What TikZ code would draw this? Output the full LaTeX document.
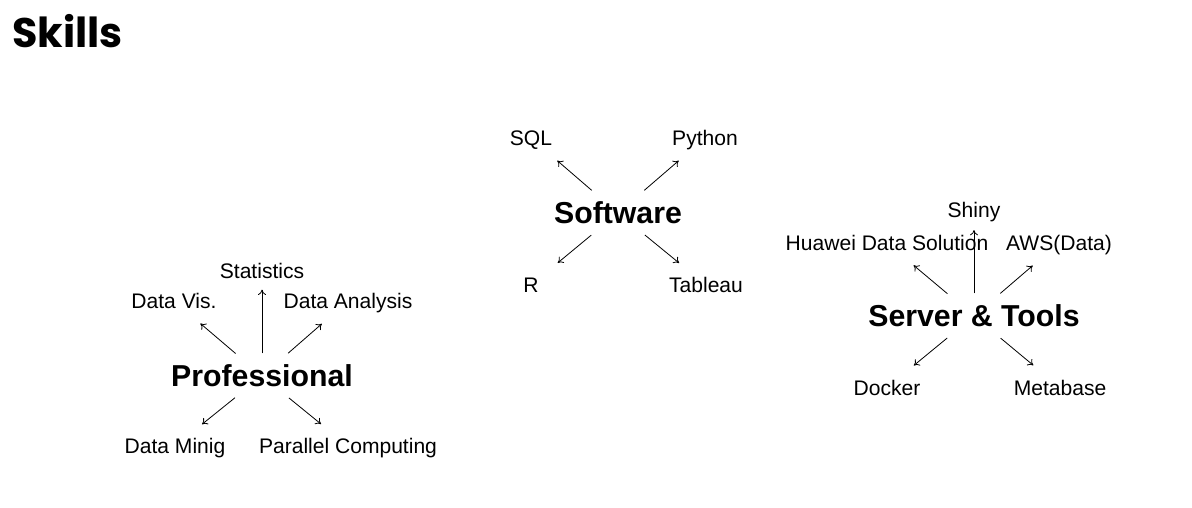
\documentclass[tikz,border=0pt]{standalone}
\usepackage{fontspec}
\setmainfont{Liberation Sans}
\newfontfamily\titlefont{Poppins}
\usetikzlibrary{arrows.meta}

\tikzset{
    leaf/.style={inner sep=0pt, text height=11.3pt, text depth=0pt, font=\fontsize{15.8}{18}\selectfont},
    hub/.style={inner sep=0pt, text height=16.3pt, text depth=0pt, font=\fontsize{22.7}{26}\selectfont\bfseries},
    arr/.style={-{To[length=4pt, width=6pt]}, line width=0.6pt, shorten <=26pt, shorten >=26pt},
}

\begin{document}
\begin{tikzpicture}[x=0.75pt, y=-0.75pt]
    \useasboundingbox (0,0) rectangle (1192,507);
    \node[anchor=base west, inner sep=0pt, font=\titlefont\bfseries\fontsize{31}{36}\selectfont] (title) at (12,47) {Skills};

    % LEFT: Professional
    \begin{scope}[shift={(262,376)}]
        \node[hub] (prof) at (0,0) {Professional};
        \node[leaf] (stat) at (0,-105) {Statistics};
        \node[leaf] (vis) at (-88,-75) {Data Vis.};
        \node[leaf] (ana) at (86,-75) {Data Analysis};
        \node[leaf] (mine) at (-87,70) {Data Minig};
        \node[leaf] (para) at (86,70) {Parallel Computing};
    \end{scope}
    \draw[arr, shorten <=17pt, shorten >=14pt] (prof.center) -- (stat.center);
    \draw[arr] (prof.center) -- (vis.center);
    \draw[arr] (prof.center) -- (ana.center);
    \draw[arr] (prof.center) -- (mine.center);
    \draw[arr] (prof.center) -- (para.center);

    % MIDDLE: Software
    \begin{scope}[shift={(618,213)}]
        \node[hub] (soft) at (0,0) {Software};
        \node[leaf] (sql) at (-87,-75) {SQL};
        \node[leaf] (py) at (87,-75) {Python};
        \node[leaf] (r) at (-87,72) {R};
        \node[leaf] (tab) at (88,72) {Tableau};
    \end{scope}
    \draw[arr] (soft.center) -- (sql.center);
    \draw[arr] (soft.center) -- (py.center);
    \draw[arr] (soft.center) -- (r.center);
    \draw[arr] (soft.center) -- (tab.center);

    % RIGHT: Server & Tools
    \begin{scope}[shift={(974,316)}]
        \node[hub] (serv) at (0,0) {Server \& Tools};
        \node[leaf] (shiny) at (0,-106) {Shiny};
        \node[leaf] (huawei) at (-87,-73) {Huawei Data Solution};
        \node[leaf] (aws) at (85,-73) {AWS(Data)};
        \node[leaf] (dock) at (-87,71.5) {Docker};
        \node[leaf] (meta) at (86,71.5) {Metabase};
    \end{scope}
    \draw[arr, shorten <=17pt, shorten >=15pt] (serv.center) -- (shiny.center);
    \draw[arr] (serv.center) -- (huawei.center);
    \draw[arr] (serv.center) -- (aws.center);
    \draw[arr] (serv.center) -- (dock.center);
    \draw[arr] (serv.center) -- (meta.center);
\end{tikzpicture}
\end{document}
